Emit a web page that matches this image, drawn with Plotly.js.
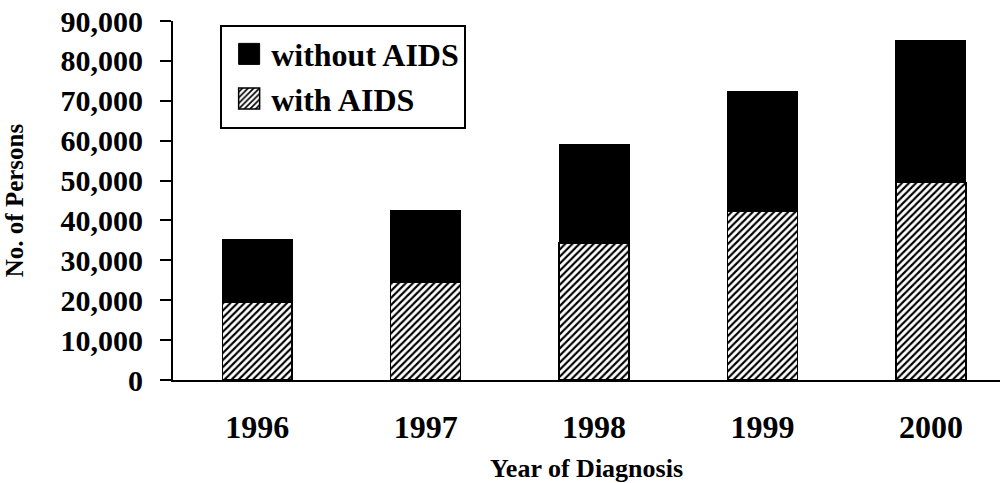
<!DOCTYPE html>
<html>
<head>
<meta charset="utf-8">
<script src="https://cdn.plot.ly/plotly-3.0.1.min.js"></script>
<style>html,body{margin:0;padding:0;background:#fff;}#chart{width:1003px;height:483px;}</style>
</head>
<body>
<div id="chart"></div>
<script>
const years = ['1996', '1997', '1998', '1999', '2000'];
const withAIDS = [19600, 24600, 34400, 42200, 49500];
const withoutAIDS = [15500, 18000, 24700, 30200, 35500];
const yTicks = [0, 10000, 20000, 30000, 40000, 50000, 60000, 70000, 80000, 90000];

const FONT = 'Liberation Serif, Times New Roman, serif';

const traces = [
  {
    type: 'bar', name: 'with AIDS', x: years, y: withAIDS, width: 0.415,
    marker: {
      color: 'white',
      line: {color: 'black', width: 1.5},
      pattern: {shape: '/', size: 5, solidity: 0.42, fgcolor: 'black', bgcolor: 'white', fillmode: 'replace'}
    }
  },
  {
    type: 'bar', name: 'without AIDS', x: years, y: withoutAIDS, width: 0.415,
    marker: {color: 'black', line: {color: 'black', width: 1}}
  }
];

const layout = {
  width: 1003, height: 483,
  margin: {l: 173, r: 3, t: 21, b: 103},
  barmode: 'stack',
  paper_bgcolor: 'white', plot_bgcolor: 'white',
  font: {family: FONT, color: 'black', weight: 'bold'},
  showlegend: true,
  legend: {
    x: 0.057, y: 0.99, xanchor: 'left', yanchor: 'top',
    traceorder: 'reversed',
    bordercolor: 'black', borderwidth: 2, bgcolor: 'white',
    font: {family: FONT, size: 32, color: 'black', weight: 'bold'},
    itemwidth: 39,
    entrywidth: 250, entrywidthmode: 'pixels'
  },
  xaxis: {
    type: 'category', range: [-0.5, 4.41],
    showline: true, linecolor: 'black', linewidth: 2,
    ticks: '', showgrid: false, zeroline: false,
    tickfont: {family: FONT, size: 32, color: 'black', weight: 'bold'},
    ticklabelstandoff: 18,
    title: {text: 'Year of Diagnosis', font: {family: FONT, size: 26, color: 'black', weight: 'bold'}, standoff: 16}
  },
  yaxis: {
    range: [0, 90000], tickvals: yTicks,
    tickformat: ',d',
    showline: true, linecolor: 'black', linewidth: 2,
    ticks: 'outside', ticklen: 11, tickwidth: 2, tickcolor: 'black',
    showgrid: false, zeroline: false,
    tickfont: {family: FONT, size: 30, color: 'black', weight: 'bold'},
    ticklabelstandoff: 11,
    title: {text: 'No. of Persons', font: {family: FONT, size: 25, color: 'black', weight: 'bold'}, standoff: 30}
  }
};

Plotly.newPlot('chart', traces, layout, {displayModeBar: false, staticPlot: true}).then(function (gd) {
  document.querySelectorAll('.legendpoints path').forEach(function (p) {
    p.setAttribute('d', 'M10.5,10.5H-10.5V-10.5H10.5Z');
    p.setAttribute('transform', 'translate(27,0)');
  });
});
</script>
</body>
</html>
